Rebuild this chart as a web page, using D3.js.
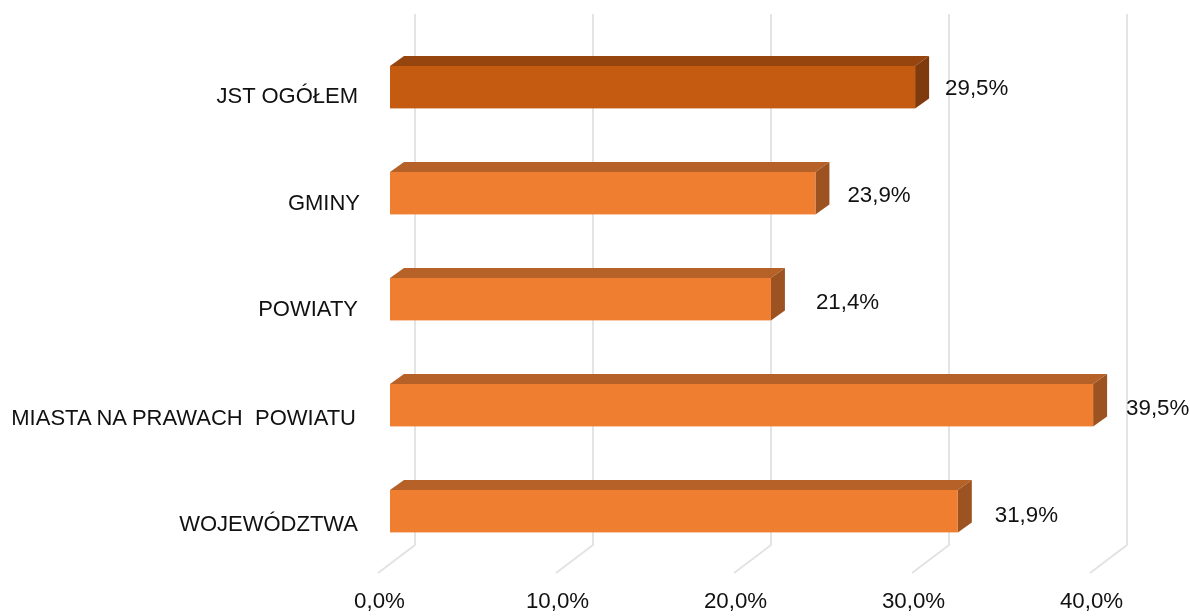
<!DOCTYPE html>
<html lang="en">
<head>
	<meta charset="UTF-8">
	<title>JST</title>
	<script src="https://cdn.jsdelivr.net/npm/d3@7/dist/d3.min.js"></script>
	<style>
		body { margin: 0; background: #fff; }
		svg { filter: blur(0.4px); }
		text { font-family: "Liberation Sans", Arial, sans-serif; font-size: 22px; fill: #111; white-space: pre; }
		.val, .tick text { font-size: 22.3px; }
	</style>
</head>
<body>
	<div id="container"></div>
	<script>
		// double space after PRAWACH is in the original label
		var categories = ["JST OGÓŁEM", "GMINY", "POWIATY", "MIASTA NA PRAWACH  POWIATU", "WOJEWÓDZTWA"];
		var values = [29.5, 23.9, 21.4, 39.5, 31.9];
		var ticks = [0, 10, 20, 30, 40];

		// labels were moved by hand in the original chart
		var catNudge = [[-32, 8], [-30, 9], [-32, 9], [-34, 12], [-32, 12]];
		var valNudge = [[30, 0], [32, 1], [45, 2], [33, 2], [37, 3]];

		var width = 1190, height = 616;
		var depthX = 14, depthY = 10;   // bar depth
		var gridX = 25, gridTop = 14, gridBottom = 545;
		var floorX = 37, floorY = 28;

		var svg = d3.select("#container").append("svg")
				.attr("width", width)
				.attr("height", height)
				.style("display", "block");

		var x = d3.scaleLinear().domain([0, 40]).range([390, 1102]);
		var y = d3.scaleBand().domain(categories).range([66, 532.4]).paddingInner(0.6).paddingOuter(0);

		// gridlines on the back wall + floor
		var grid = svg.selectAll(".grid").data(ticks).enter().append("path")
				.attr("class", "grid")
				.attr("fill", "none")
				.attr("stroke", "#e2e2e2")
				.attr("stroke-width", 1.8)
				.attr("d", d => {
					var gx = x(d) + gridX;
					return "M" + gx + "," + gridTop + "V" + gridBottom + "l" + (-floorX) + "," + floorY;
				});

		var bars = svg.selectAll(".bar").data(categories).enter().append("g")
				.attr("class", "bar");

		// top face
		bars.append("path")
				.attr("fill", (d, i) => i == 0 ? "#97450f" : "#b56127")
				.attr("d", (d, i) => {
					var y0 = y(d);
					return "M" + x(0) + "," + y0 + "l" + depthX + "," + (-depthY) + "H" + (x(values[i]) + depthX) + "l" + (-depthX) + "," + depthY + "Z";
				});

		// side face
		bars.append("path")
				.attr("fill", (d, i) => i == 0 ? "#7f3a0d" : "#9c5321")
				.attr("d", (d, i) => {
					var x1 = x(values[i]), y0 = y(d);
					return "M" + x1 + "," + y0 + "l" + depthX + "," + (-depthY) + "v" + y.bandwidth() + "l" + (-depthX) + "," + depthY + "Z";
				});

		// front
		bars.append("rect")
				.attr("x", x(0))
				.attr("y", d => y(d))
				.attr("width", (d, i) => x(values[i]) - x(0))
				.attr("height", y.bandwidth())
				.attr("fill", (d, i) => i == 0 ? "#c55a11" : "#ef7e31");

		svg.selectAll(".cat").data(categories).enter().append("text")
				.attr("class", "cat")
				.attr("text-anchor", "end")
				.attr("dy", "0.35em")
				.attr("x", (d, i) => x(0) + catNudge[i][0])
				.attr("y", (d, i) => y(d) + y.bandwidth() / 2 + catNudge[i][1])
				.text(d => d);

		svg.selectAll(".val").data(values).enter().append("text")
				.attr("class", "val")
				.attr("dy", "0.35em")
				.attr("x", (d, i) => x(d) + valNudge[i][0])
				.attr("y", (d, i) => y(categories[i]) + y.bandwidth() / 2 + valNudge[i][1])
				.text(d => d3.format(".1f")(d).replace(".", ",") + "%");

		var axis = d3.axisBottom(x)
				.tickValues(ticks)
				.tickSize(0)
				.tickFormat(d => d3.format(".1f")(d).replace(".", ",") + "%");

		var axisG = svg.append("g")
				.attr("transform", "translate(-11,589.5)")
				.call(axis);
		axisG.select(".domain").remove();
		axisG.selectAll("text").attr("fill", null);
	</script>
</body>
</html>
